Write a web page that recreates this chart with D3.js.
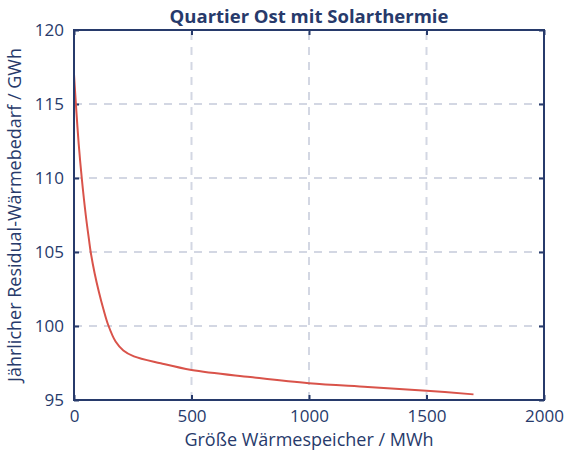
<!DOCTYPE html>
<html><head><meta charset="utf-8">
<script src="https://cdn.jsdelivr.net/npm/d3@7"></script>
<style>body{margin:0;background:#fff}svg{display:block}text{font-family:"Open Sans","Noto Sans",sans-serif}</style>
</head><body><svg id="c" width="566" height="452"></svg>
<script>
const title = "Quartier Ost mit Solarthermie";
const xLabel = "Größe Wärmespeicher / MWh";
const yLabel = "Jährlicher Residual-Wärmebedarf / GWh";
const speicher = [0, 8, 20, 33, 50, 64, 71, 88, 106, 125, 146, 177, 210, 255, 369, 500, 750, 1000, 1250, 1500, 1700];
const bedarf = [117.0, 115.0, 112.3, 110.0, 107.5, 105.8, 105.0, 103.55, 102.3, 101.15, 100.05, 98.95, 98.35, 97.95, 97.48, 97.03, 96.55, 96.13, 95.88, 95.63, 95.38];
const xTicks = [0, 500, 1000, 1500, 2000];
const yTicks = [95, 100, 105, 110, 115, 120];

const navy = "#273a6b", grid = "#d3d7e3", red = "#d9534a";
const m = {l:74, r:22, t:30, b:52};
const W = 566, H = 452;
const svg = d3.select("#c");
const x = d3.scaleLinear().domain([0,2000]).range([m.l, W-m.r]);
const y = d3.scaleLinear().domain([95,120]).range([H-m.b, m.t]);

// grid
svg.append("g").selectAll("line").data(xTicks.slice(1,-1)).join("line")
  .attr("x1",d=>x(d)).attr("x2",d=>x(d)).attr("y1",y(95)).attr("y2",y(120))
  .attr("stroke",grid).attr("stroke-width",2).attr("stroke-dasharray","8,7");
svg.append("g").selectAll("line").data(yTicks.slice(1,-1)).join("line")
  .attr("y1",d=>y(d)).attr("y2",d=>y(d)).attr("x1",x(0)).attr("x2",x(2000))
  .attr("stroke",grid).attr("stroke-width",2).attr("stroke-dasharray","8,7");

// axes
const xa = svg.append("g").attr("transform",`translate(0,${y(95)})`)
  .call(d3.axisBottom(x).tickValues(xTicks).tickSize(-5).tickPadding(10).tickFormat(d3.format("d")));
const xt = svg.append("g").attr("transform",`translate(0,${y(120)})`)
  .call(d3.axisTop(x).tickValues(xTicks).tickSize(-5).tickFormat(""));
const ya = svg.append("g").attr("transform",`translate(${x(0)},0)`)
  .call(d3.axisLeft(y).tickValues(yTicks).tickSize(-5).tickPadding(10).tickFormat(d3.format("d")));
const yr = svg.append("g").attr("transform",`translate(${x(2000)},0)`)
  .call(d3.axisRight(y).tickValues(yTicks).tickSize(-5).tickFormat(""));
[xa,xt,ya,yr].forEach(g=>{
  g.select(".domain").remove();
  g.selectAll(".tick line").attr("stroke",navy).attr("stroke-width",2);
  g.selectAll(".tick text").attr("fill",navy).style("font-size","17px").style("font-family",'"Open Sans",sans-serif');
});

// line
const pts = speicher.map((s,i)=>[s,bedarf[i]]);
svg.append("path").datum(pts).attr("fill","none").attr("stroke",red).attr("stroke-width",2)
  .attr("d", d3.line().x(d=>x(d[0])).y(d=>y(d[1])).curve(d3.curveCatmullRom.alpha(0.5)));

// frame
svg.append("rect").attr("x",x(0)).attr("y",y(120)).attr("width",x(2000)-x(0)).attr("height",y(95)-y(120))
  .attr("fill","none").attr("stroke",navy).attr("stroke-width",2);

// labels
svg.append("text").attr("x",(x(0)+x(2000))/2).attr("y",23).attr("text-anchor","middle")
  .attr("fill",navy).style("font-size","18.5px").style("font-weight","bold").text(title);
svg.append("text").attr("x",(x(0)+x(2000))/2).attr("y",446).attr("text-anchor","middle")
  .attr("fill",navy).style("font-size","18px").text(xLabel);
svg.append("text").attr("transform",`translate(21,${(y(95)+y(120))/2}) rotate(-90)`).attr("text-anchor","middle")
  .attr("fill",navy).style("font-size","18px").text(yLabel);
</script></body></html>
